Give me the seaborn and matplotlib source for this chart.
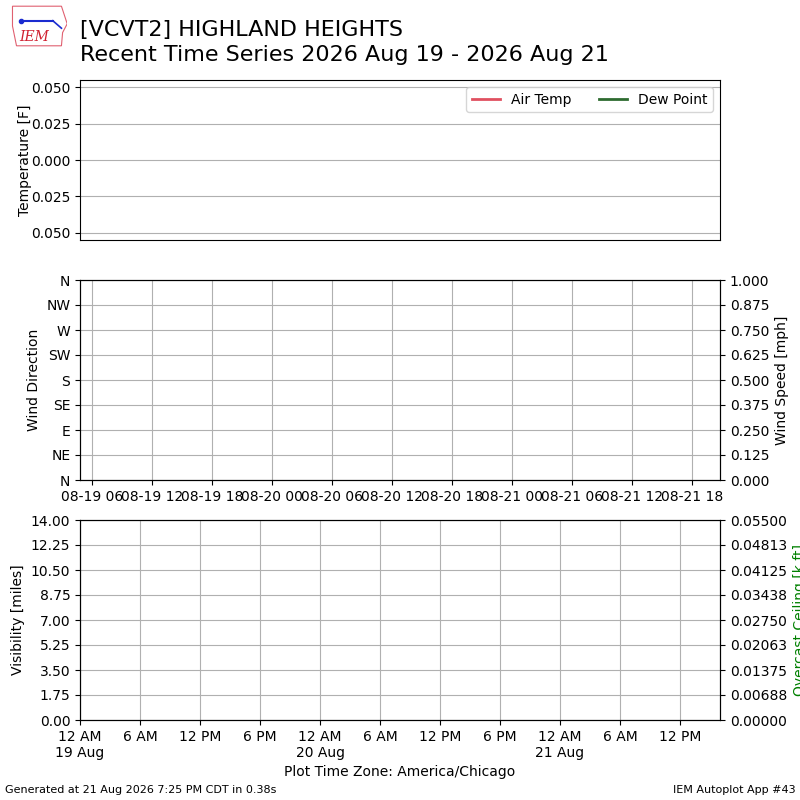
import numpy as np
import pandas as pd
import seaborn as sns
import matplotlib
matplotlib.use("Agg")
import matplotlib.pyplot as plt
import matplotlib.dates as mdates
from matplotlib.lines import Line2D
from matplotlib.patches import Polygon

# Station / period text
station = "[VCVT2] HIGHLAND HEIGHTS"
period = "Recent Time Series 2026 Aug 19 - 2026 Aug 21"
footer_left = "Generated at 21 Aug 2026 7:25 PM CDT in 0.38s"
footer_right = "IEM Autoplot App #43"

# Observations (station reported nothing in the window)
valid = []
tmpf = []
dwpf = []
drct = []
sknt = []
vsby = []
ceiling = []

# Axis settings
temp_ticks = [0.05, 0.025, 0.0, -0.025, -0.05]
temp_ticklabels = ["0.050", "0.025", "0.000", "0.025", "0.050"]
dir_labels = ["N", "NE", "E", "SE", "S", "SW", "W", "NW", "N"]
wind_x0, wind_x1 = "2026-08-19 04:48", "2026-08-21 20:48"
vis_x0, vis_x1 = "2026-08-19 00:00", "2026-08-21 16:00"

# plain matplotlib look
sns.reset_orig()
plt.rcParams["font.family"] = ["DejaVu Sans"]

fig = plt.figure(figsize=(8, 8), dpi=100)

# --- temperature panel
ax1 = fig.add_axes([0.1, 0.7, 0.8, 0.2])
df = pd.DataFrame({"valid": pd.to_datetime(valid), "tmpf": tmpf, "dwpf": dwpf})
if len(df):
    sns.lineplot(data=df, x="valid", y="tmpf", color="#e05060", ax=ax1)
    sns.lineplot(data=df, x="valid", y="dwpf", color="#2e6b30", ax=ax1)
ax1.set_ylim(-0.055, 0.055)
ax1.set_yticks(temp_ticks)
ax1.set_yticklabels(temp_ticklabels)
ax1.set_xticks([])
ax1.set_xlabel("")
ax1.set_ylabel("Temperature [F]")
ax1.yaxis.set_label_coords(-0.075, 0.5)
ax1.grid(True, axis="y")
handles = [Line2D([], [], color="#e05060", lw=2),
           Line2D([], [], color="#2e6b30", lw=2)]
ax1.legend(handles, ["Air Temp", "Dew Point"], ncol=2, loc="upper right")

# --- wind panel
ax2 = fig.add_axes([0.1, 0.4, 0.8, 0.25])
ax2.set_ylim(0, 360)
ax2.set_yticks(np.arange(0, 361, 45))
ax2.set_yticklabels(dir_labels)
ax2.set_ylabel("Wind Direction")
ax2.set_xlim(pd.Timestamp(wind_x0), pd.Timestamp(wind_x1))
ax2.xaxis.set_major_locator(mdates.HourLocator(byhour=[0, 6, 12, 18]))
ax2.xaxis.set_major_formatter(mdates.DateFormatter("%m-%d %H"))
ax2.grid(True)
ax2r = ax2.twinx()
ax2r.set_ylim(0, 1)
ax2r.set_yticks(np.linspace(0, 1, 9))
ax2r.yaxis.set_major_formatter(matplotlib.ticker.FormatStrFormatter("%.3f"))
ax2r.set_ylabel("Wind Speed [mph]")

# --- visibility / ceiling panel
ax3 = fig.add_axes([0.1, 0.1, 0.8, 0.25])
ax3.set_ylim(0, 14)
ax3.set_yticks(np.linspace(0, 14, 9))
ax3.yaxis.set_major_formatter(matplotlib.ticker.FormatStrFormatter("%.2f"))
ax3.set_ylabel("Visibility [miles]")
ax3.set_xlim(pd.Timestamp(vis_x0), pd.Timestamp(vis_x1))
ticks = pd.date_range(vis_x0, "2026-08-21 12:00", freq="6h")
labels = []
for t in ticks:
    if t.hour == 0:
        labels.append("12 AM\n%d %s" % (t.day, t.strftime("%b")))
    else:
        labels.append(t.strftime("%-I %p"))
ax3.set_xticks(ticks)
ax3.set_xticklabels(labels)
ax3.set_xlabel("Plot Time Zone: America/Chicago")
ax3.grid(True)
ax3r = ax3.twinx()
ax3r.set_ylim(0, 0.055)
ax3r.set_yticks(np.linspace(0, 0.055, 9))
ax3r.yaxis.set_major_formatter(matplotlib.ticker.FormatStrFormatter("%.5f"))
ax3r.set_ylabel("Overcast Ceiling [k ft]", color="green")

# --- titles and footer
fig.text(0.1, 0.963, station, fontsize=16, va="center")
fig.text(0.1, 0.931, period, fontsize=16, va="center", ha="left")
fig.text(0.006, 0.013, footer_left, fontsize=8, va="center")
fig.text(0.994, 0.013, footer_right, fontsize=8, va="center", ha="right")

# small logo
lax = fig.add_axes([0.012, 0.94, 0.072, 0.055])
lax.set_xlim(0, 1)
lax.set_ylim(0, 1)
lax.axis("off")
lax.add_patch(Polygon([[0.05, 0.95], [0.9, 0.95], [0.95, 0.75], [1.0, 0.55],
                       [0.92, 0.35], [0.9, 0.05], [0.12, 0.05], [0.05, 0.5]],
                      closed=True, fill=False, ec="#e06070", lw=0.8))
lax.plot([0.2, 0.75], [0.62, 0.62], color="#1a2bd0", lw=1.5)
lax.plot([0.75, 0.9], [0.62, 0.45], color="#1a2bd0", lw=1.2)
lax.plot([0.2], [0.62], "o", color="#1a2bd0", ms=3)
lax.text(0.42, 0.25, "IEM", color="#d02030", fontsize=10,
         family="DejaVu Serif", style="italic", ha="center", va="center")

fig.savefig("out.png", dpi=100)
